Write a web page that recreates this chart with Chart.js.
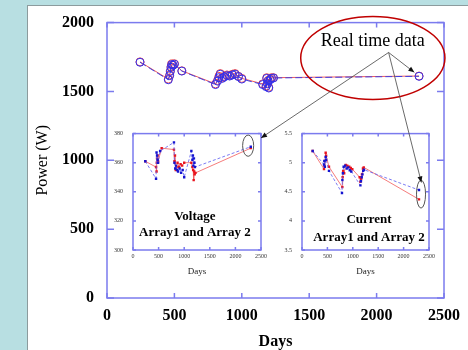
<!DOCTYPE html>
<html>
<head>
<meta charset="utf-8">
<script src="https://cdn.jsdelivr.net/npm/chart.js@4.4.1/dist/chart.umd.min.js"></script>
<style>
  html, body { margin: 0; padding: 0; }
  body { width: 468px; height: 350px; background: #b8dfe2; position: relative; overflow: hidden; }
  #panel { position: absolute; left: 27px; top: 5px; right: 0; bottom: 0; background: #fff;
           border-left: 1px solid #8c9b9d; border-top: 1px solid #8c9b9d; }
  canvas { position: absolute; }
</style>
</head>
<body>
<div id="panel"></div>
<canvas id="mainChart" width="468" height="350" style="left:0;top:0"></canvas>
<canvas id="voltChart" width="165" height="160" style="left:108px;top:120px"></canvas>
<canvas id="currChart" width="160" height="160" style="left:278px;top:120px"></canvas>
<canvas id="notes" width="468" height="350" style="left:0;top:0"></canvas>
<script>
// tick labels
const dayTicks = [0, 500, 1000, 1500, 2000, 2500]
const powerTicks = [0, 500, 1000, 1500, 2000]
const voltTicks = [300, 320, 340, 360, 380]
const currTicks = [3.5, 4, 4.5, 5, 5.5]

// power, both arrays (W)
const powerDays = [245, 455, 465, 470, 475, 480, 490, 500, 555, 805, 820, 830, 840, 855, 870, 890, 910, 930, 950, 975, 1000, 1155, 1180, 1185, 1190, 1195, 1200, 1210, 1220, 1235, 2315]
const powerArray1 = [1715, 1590, 1620, 1650, 1680, 1700, 1690, 1700, 1650, 1555, 1580, 1610, 1630, 1600, 1610, 1620, 1615, 1625, 1630, 1610, 1595, 1555, 1540, 1600, 1560, 1580, 1530, 1590, 1600, 1600, 1612]
const powerArray2 = [1712, 1585, 1615, 1645, 1675, 1695, 1690, 1698, 1648, 1550, 1575, 1600, 1625, 1595, 1605, 1615, 1612, 1620, 1625, 1608, 1590, 1550, 1535, 1595, 1555, 1575, 1525, 1585, 1595, 1598, 1610]

// voltage (V)
const voltDays1 = [240, 450, 460, 465, 470, 480, 490, 560, 800, 810, 820, 835, 850, 870, 900, 930, 960, 1000, 1140, 1160, 1175, 1185, 1195, 1205, 1220, 2300]
const voltArray1 = [361, 357, 354, 360, 363, 365, 361, 370, 369, 361, 365, 355, 357, 360, 357, 359, 358, 360, 360, 357, 355, 348, 354, 352, 353, 370]
const voltDays2 = [240, 450, 460, 470, 480, 490, 530, 800, 810, 825, 840, 860, 880, 910, 940, 970, 1000, 1140, 1160, 1170, 1180, 1190, 1200, 1210, 2300]
const voltArray2 = [361, 349, 367, 365, 362, 360, 368, 374, 360, 356, 358, 355, 354, 356, 353, 355, 350, 368, 362, 365, 358, 363, 360, 357, 371]

// current (A)
const currDays1 = [210, 433, 440, 450, 466, 475, 531, 794, 800, 810, 830, 860, 890, 930, 960, 990, 1135, 1150, 1165, 1180, 1200, 1215, 2303]
const currArray1 = [5.2, 4.89, 4.95, 5.03, 5.17, 5.12, 4.93, 4.58, 4.75, 4.86, 4.82, 4.96, 4.95, 4.93, 4.91, 4.89, 4.75, 4.67, 4.72, 4.8, 4.9, 4.92, 4.37]
const currDays2 = [210, 433, 440, 450, 466, 475, 531, 787, 795, 805, 820, 850, 880, 910, 940, 970, 1150, 1160, 1175, 1190, 1205, 1220, 2303]
const currArray2 = [5.2, 4.97, 5.03, 4.93, 5.1, 5.05, 4.86, 4.48, 4.7, 4.82, 4.93, 4.95, 4.9, 4.92, 4.87, 4.85, 4.61, 4.68, 4.75, 4.8, 4.86, 4.88, 4.53]

const serif = '"Liberation Serif", "Times New Roman", serif'
Chart.defaults.font.family = serif

function pairs(days, vals){
    return days.map((d, i) => ({x: d, y: vals[i]}))
}

function setTicks(arr){
    return scale => { scale.ticks = arr.map(v => ({value: v})) }
}

const plain = value => String(value)

// frame round the plot with ticks pointing inwards
const boxTicks = {
    id: 'boxTicks',
    beforeDatasetsDraw(chart, args, opts){
        const {ctx, chartArea: a} = chart
        const xs = chart.scales.x, ys = chart.scales.y
        ctx.save()
        ctx.strokeStyle = opts.color
        ctx.lineWidth = opts.width
        ctx.strokeRect(a.left, a.top, a.right - a.left, a.bottom - a.top)
        ctx.beginPath()
        xs.ticks.forEach(t => {
            const px = xs.getPixelForValue(t.value)
            ctx.moveTo(px, a.bottom); ctx.lineTo(px, a.bottom - opts.lenX)
            ctx.moveTo(px, a.top); ctx.lineTo(px, a.top + opts.lenX)
        })
        ys.ticks.forEach(t => {
            const py = ys.getPixelForValue(t.value)
            ctx.moveTo(a.left, py); ctx.lineTo(a.left + opts.lenY, py)
            ctx.moveTo(a.right, py); ctx.lineTo(a.right - opts.lenY, py)
        })
        ctx.stroke()
        ctx.restore()
    }
}

// caption and small ring inside the insets
const insetNote = {
    id: 'insetNote',
    afterDatasetsDraw(chart, args, opts){
        if (!opts.lines) return
        const {ctx} = chart
        const xs = chart.scales.x, ys = chart.scales.y
        ctx.save()
        ctx.font = 'bold 13px ' + serif
        ctx.fillStyle = '#000'
        ctx.textAlign = 'center'
        ctx.textBaseline = 'middle'
        opts.lines.forEach((ln, i) => {
            ctx.fillText(ln, xs.getPixelForValue(opts.textX), ys.getPixelForValue(opts.textY[i]))
        })
        const r = opts.ring
        const cx = xs.getPixelForValue(r.x), cy = ys.getPixelForValue(r.y)
        const rx = Math.abs(xs.getPixelForValue(r.x + r.dx) - cx)
        const ry = Math.abs(ys.getPixelForValue(r.y + r.dy) - cy)
        ctx.strokeStyle = '#555'
        ctx.lineWidth = 1
        ctx.beginPath()
        ctx.ellipse(cx, cy, rx, ry, 0, 0, Math.PI * 2)
        ctx.stroke()
        ctx.restore()
    }
}

const mainChart = new Chart(document.getElementById('mainChart'), {
    type: 'line',
    data: {
        datasets: [{
            label: 'Array 2',
            data: pairs(powerDays, powerArray2),
            borderColor: '#4040e0',
            borderWidth: 1,
            borderDash: [7, 3],
            pointRadius: 4,
            pointBorderColor: '#2f2fee',
            pointBackgroundColor: 'rgba(0,0,0,0)',
            pointBorderWidth: 1,
            tension: 0
        }, {
            label: 'Array 1',
            data: pairs(powerDays, powerArray1),
            borderColor: '#f05a5a',
            borderWidth: 1,
            pointRadius: 4,
            pointBorderColor: '#f04848',
            pointBackgroundColor: 'rgba(0,0,0,0)',
            pointBorderWidth: 1,
            tension: 0
        }]
    },
    options: {
        responsive: false,
        animation: false,
        devicePixelRatio: 1,
        layout: { padding: { top: 22, right: 20, left: 0, bottom: 0 } },
        plugins: {
            legend: { display: false },
            tooltip: { enabled: false },
            boxTicks: { color: '#7b7bee', width: 1.5, lenX: 5, lenY: 7 }
        },
        scales: {
            x: {
                type: 'linear', min: 0, max: 2500,
                afterBuildTicks: setTicks(dayTicks),
                afterFit: s => { s.height = 52 },
                grid: { display: false, drawTicks: false },
                border: { display: false },
                ticks: { color: '#000', padding: 8, maxRotation: 0, callback: plain,
                         font: { size: 16, weight: 'bold' } },
                title: { display: true, text: 'Days', color: '#000', padding: 0,
                         font: { size: 16, weight: 'bold', lineHeight: 1 } }
            },
            y: {
                type: 'linear', min: 0, max: 2000,
                afterBuildTicks: setTicks(powerTicks),
                afterFit: s => { s.width = 107 },
                grid: { display: false, drawTicks: false },
                border: { display: false },
                ticks: { color: '#000', padding: 13, callback: plain, font: { size: 16, weight: 'bold' } },
                title: { display: true, text: 'Power (W)', color: '#000', padding: { top: 33, bottom: 0 },
                         font: { size: 16 } }
            }
        }
    },
    plugins: [boxTicks]
})

function insetChart(id, set1, set2, yMin, yMax, yTicks, padRight, yWidth, daysPad, note){
    return new Chart(document.getElementById(id), {
        type: 'line',
        data: {
            datasets: [{
                label: 'Array 2',
                data: set2,
                borderColor: '#5a5af0',
                borderWidth: 0.8,
                borderDash: [3, 2],
                pointStyle: 'rect',
                pointRadius: 1.7,
                pointBorderWidth: 0,
                pointBackgroundColor: '#1414d0',
                tension: 0
            }, {
                label: 'Array 1',
                data: set1,
                borderColor: '#f25a5a',
                borderWidth: 0.8,
                pointStyle: 'rect',
                pointRadius: 1.7,
                pointBorderWidth: 0,
                pointBackgroundColor: '#e8141e',
                tension: 0
            }]
        },
        options: {
            responsive: false,
            animation: false,
            devicePixelRatio: 1,
            layout: { padding: { top: 10, right: padRight, left: 0, bottom: 0 } },
            plugins: {
                legend: { display: false },
                tooltip: { enabled: false },
                boxTicks: { color: '#7b7bee', width: 1.5, lenX: 3, lenY: 3 },
                insetNote: note
            },
            scales: {
                x: {
                    type: 'linear', min: 0, max: 2500,
                    afterBuildTicks: setTicks(dayTicks),
                    afterFit: s => { s.height = 30 },
                    grid: { display: false, drawTicks: false },
                    border: { display: false },
                    ticks: { color: '#333', padding: 3, maxRotation: 0, callback: plain, font: { size: 6 } },
                    title: { display: true, text: 'Days', color: '#222', padding: { top: 0, bottom: daysPad },
                             font: { size: 9, lineHeight: 1 } }
                },
                y: {
                    type: 'linear', min: yMin, max: yMax,
                    afterBuildTicks: setTicks(yTicks),
                    afterFit: s => { s.width = yWidth },
                    grid: { display: false, drawTicks: false },
                    border: { display: false },
                    ticks: { color: '#333', padding: 10, callback: plain, font: { size: 6 } }
                }
            }
        },
        plugins: [boxTicks, insetNote]
    })
}

const voltChart = insetChart('voltChart', pairs(voltDays1, voltArray1), pairs(voltDays2, voltArray2),
    300, 380, voltTicks, 12, 25, 4,
    { lines: ['Voltage', 'Array1 and Array 2'], textX: 1208, textY: [323, 312],
      ring: { x: 2249, y: 371.7, dx: 108, dy: 7.3 } })

const currChart = insetChart('currChart', pairs(currDays1, currArray1), pairs(currDays2, currArray2),
    3.5, 5.5, currTicks, 9, 24, 3.5,
    { lines: ['Current', 'Array1 and Array 2'], textX: 1319, textY: [4.02, 3.72],
      ring: { x: 2343, y: 4.46, dx: 89, dy: 0.24 } })

// "Real time data" ring, text and arrows on top of everything
function drawNotes(){
    const ctx = document.getElementById('notes').getContext('2d')
    const mx = v => mainChart.scales.x.getPixelForValue(v)
    const my = v => mainChart.scales.y.getPixelForValue(v)
    const at = (chart, x, y) => [chart.canvas.offsetLeft + chart.scales.x.getPixelForValue(x),
                                 chart.canvas.offsetTop + chart.scales.y.getPixelForValue(y)]

    const cx = mx(1972), cy = my(1743)
    ctx.strokeStyle = '#c00000'
    ctx.lineWidth = 1.5
    ctx.beginPath()
    ctx.ellipse(cx, cy, Math.abs(mx(1972 + 535) - cx), Math.abs(my(1743 + 301) - cy), 0, 0, Math.PI * 2)
    ctx.stroke()

    ctx.font = '18px ' + serif
    ctx.fillStyle = '#000'
    ctx.textAlign = 'center'
    ctx.textBaseline = 'alphabetic'
    ctx.fillText('Real time data', mx(1972), my(1833))

    const sx = mx(2089), sy = my(1783)
    const last = powerDays.length - 1
    let px = mx(powerDays[last]), py = my(powerArray1[last])
    const d = Math.hypot(px - sx, py - sy)
    const tips = [
        [px - (px - sx) / d * 6, py - (py - sy) / d * 6],
        at(voltChart, 2500, 377),
        at(currChart, 2350, 4.66)
    ]
    ctx.strokeStyle = '#444'
    ctx.fillStyle = '#111'
    ctx.lineWidth = 0.8
    tips.forEach(([tx, ty]) => {
        ctx.beginPath()
        ctx.moveTo(sx, sy)
        ctx.lineTo(tx, ty)
        ctx.stroke()
        const ang = Math.atan2(ty - sy, tx - sx)
        ctx.beginPath()
        ctx.moveTo(tx, ty)
        ctx.lineTo(tx - 6 * Math.cos(ang) + 2.5 * Math.sin(ang), ty - 6 * Math.sin(ang) - 2.5 * Math.cos(ang))
        ctx.lineTo(tx - 6 * Math.cos(ang) - 2.5 * Math.sin(ang), ty - 6 * Math.sin(ang) + 2.5 * Math.cos(ang))
        ctx.closePath()
        ctx.fill()
    })
}
drawNotes()
</script>
</body>
</html>
